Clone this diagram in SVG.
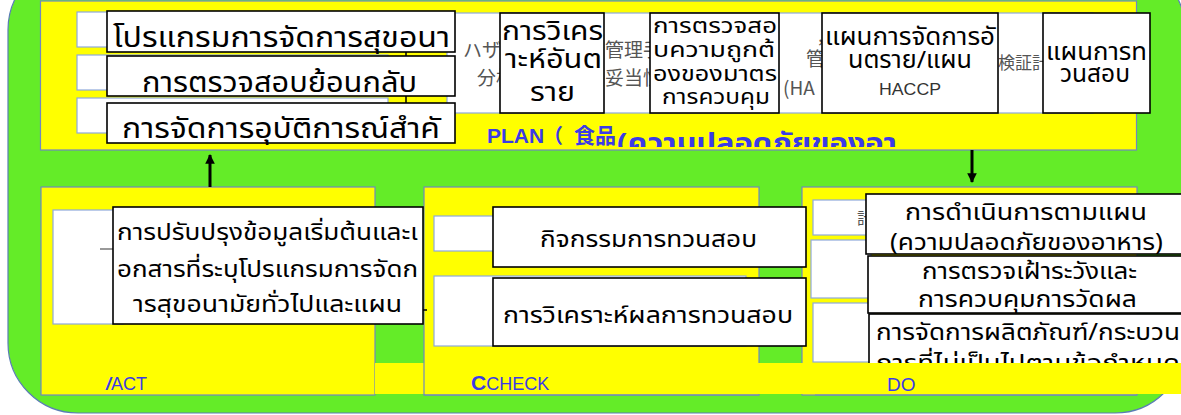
<svg xmlns="http://www.w3.org/2000/svg" width="1181" height="415" viewBox="0 0 1181 415">
<style>
.ybox{fill:#FFFF00;stroke:#7088C0;stroke-width:1.2}
.cell{fill:#FFFFFF;stroke:#8EA9DB;stroke-width:1.2}
.bb{fill:#FFFFFF;stroke:#000000;stroke-width:1.6}
.th{font-family:"Noto Sans Thai","Noto Sans Thai Looped","DejaVu Sans","Noto Sans",sans-serif;fill:#000}
.jp{font-family:"Noto Sans CJK JP",sans-serif;fill:#555;font-size:19px}
.lbl{font-family:"Liberation Sans",Arial,sans-serif;fill:#3B3BE6}
.conn{stroke:#000;stroke-width:3;fill:none}
</style>
<defs>
<marker id="ah" viewBox="0 0 10 10" refX="9" refY="5" markerWidth="3.2" markerHeight="3.2" orient="auto"><path d="M0,0 L10,5 L0,10 z" fill="#000"/></marker>
<clipPath id="planclip"><rect x="40" y="0" width="1100" height="147"/></clipPath>
<clipPath id="doclip"><rect x="860" y="310" width="330" height="53"/></clipPath>
</defs>
<rect width="1181" height="415" fill="#FFFFFF"/>
<path id="bg" d="M78,-40 H1115 A70,70 0 0 1 1185,30 V343 A70,70 0 0 1 1115,413 H78 A70,70 0 0 1 8,343 V30 A70,70 0 0 1 78,-40 Z" fill="#64EC28" stroke="#5A7DB5" stroke-width="1.2"/>

<g id="plan">
<rect class="ybox" x="40.5" y="1" width="1096" height="149"/>
<rect class="cell" x="77" y="12" width="311" height="35"/>
<rect class="cell" x="77" y="55" width="311" height="35"/>
<rect class="cell" x="77" y="98" width="311" height="35"/>
<rect class="cell" x="447" y="13" width="646" height="100"/>
<text class="jp"><tspan x="463" y="57">ハザ</tspan><tspan x="477" y="85">分析</tspan></text>
<text class="jp"><tspan x="605" y="57">管理手</tspan><tspan x="605" y="85">妥当性</tspan></text>
<text class="jp"><tspan x="818" y="42">,</tspan><tspan x="806" y="66">管</tspan><tspan x="783" y="95">(HA</tspan></text>
<text class="jp" x="998" y="69" style="font-size:17px">検証計</text>
<text class="lbl" x="487" y="143" style="font-size:21px;font-weight:bold">PLAN</text>
<text class="lbl" clip-path="url(#planclip)" style="font-weight:bold"><tspan x="543" y="143" style="font-family:'Noto Sans CJK JP',sans-serif;font-size:20px">（</tspan><tspan x="574" y="143" style="font-family:'Noto Sans CJK JP',sans-serif;font-size:21px">食品</tspan><tspan class="th" x="617" y="152" style="font-size:26px;fill:#3B3BE6" textLength="280" lengthAdjust="spacingAndGlyphs">(ความปลอดภัยของอา</tspan></text>
</g>

<g id="plan-n1"><rect class="bb" x="107" y="11" width="348" height="41"/><text class="th" x="113" y="47" style="font-size:28px" textLength="337" lengthAdjust="spacingAndGlyphs">โปรแกรมการจัดการสุขอนา</text></g>
<g id="plan-n2"><rect class="bb" x="107" y="56" width="348" height="40"/><text class="th" x="142" y="92" style="font-size:28px" textLength="275" lengthAdjust="spacingAndGlyphs">การตรวจสอบย้อนกลับ</text></g>
<g id="plan-n3"><rect class="bb" x="107" y="103" width="348" height="40"/><text class="th" x="122" y="138" style="font-size:28px" textLength="318" lengthAdjust="spacingAndGlyphs">การจัดการอุบัติการณ์สำคั</text></g>
<g id="plan-n4"><rect class="bb" x="500" y="13" width="104" height="100"/>
<text class="th" style="font-size:26px"><tspan x="502" y="40" textLength="101" lengthAdjust="spacingAndGlyphs">การวิเคร</tspan><tspan x="505" y="68" textLength="97" lengthAdjust="spacingAndGlyphs">าะห์อันต</tspan><tspan x="530" y="101" textLength="45" lengthAdjust="spacingAndGlyphs">ราย</tspan></text></g>
<g id="plan-n5"><rect class="bb" x="650" y="13" width="129" height="100"/>
<text class="th" style="font-size:22px"><tspan x="653" y="33" textLength="124" lengthAdjust="spacingAndGlyphs">การตรวจสอ</tspan><tspan x="653" y="57" textLength="122" lengthAdjust="spacingAndGlyphs">บความถูกต้</tspan><tspan x="653" y="81" textLength="124" lengthAdjust="spacingAndGlyphs">องของมาตร</tspan><tspan x="662" y="104" textLength="108" lengthAdjust="spacingAndGlyphs">การควบคุม</tspan></text></g>
<g id="plan-n6"><rect class="bb" x="822" y="13" width="176" height="100"/>
<text class="th" style="font-size:24px"><tspan x="825" y="45" textLength="170" lengthAdjust="spacingAndGlyphs">แผนการจัดการอั</tspan><tspan x="848" y="68" textLength="124" lengthAdjust="spacingAndGlyphs">นตราย/แผน</tspan><tspan x="879" y="95" textLength="62" lengthAdjust="spacingAndGlyphs" style="font-family:'Liberation Sans',Arial,sans-serif;font-size:17px;fill:#333">HACCP</tspan></text></g>
<g id="plan-n7"><rect class="bb" x="1043" y="13" width="107" height="100"/>
<text class="th" style="font-size:24px"><tspan x="1046" y="60" textLength="101" lengthAdjust="spacingAndGlyphs">แผนการท</tspan><tspan x="1060" y="82" textLength="70" lengthAdjust="spacingAndGlyphs">วนสอบ</tspan></text></g>

<g id="act">
<rect class="ybox" x="41" y="187" width="334" height="208"/>
<rect class="cell" x="53" y="210" width="70" height="114"/>
<line x1="100" y1="249" x2="113" y2="249" stroke="#777" stroke-width="1.5"/>
</g>
<g id="check">
<rect class="ybox" x="424" y="187" width="335" height="208"/>
<rect class="cell" x="434" y="216" width="70" height="35"/>
<rect class="cell" x="434" y="276" width="312" height="70"/>
</g>
<g id="do">
<rect class="ybox" x="802" y="187" width="335" height="208"/>
<rect class="cell" x="813" y="200" width="60" height="35"/>
<text class="jp" x="857" y="224" style="font-size:16px">計</text>
<rect class="cell" x="811" y="240" width="60" height="58"/>
<rect class="cell" x="813" y="303" width="60" height="59"/>
</g>

<g id="act-n1"><rect class="bb" x="113" y="207" width="310" height="117"/>
<text class="th" style="font-size:23px"><tspan x="117" y="240" textLength="301" lengthAdjust="spacingAndGlyphs">การปรับปรุงข้อมูลเริ่มต้นและเ</tspan><tspan x="117" y="277" textLength="301" lengthAdjust="spacingAndGlyphs">อกสารที่ระบุโปรแกรมการจัดก</tspan><tspan x="133" y="312" textLength="269" lengthAdjust="spacingAndGlyphs">ารสุขอนามัยทั่วไปและแผน</tspan></text></g>
<g id="check-n1"><rect class="bb" x="493" y="207" width="313" height="60"/>
<text class="th" x="540" y="247" style="font-size:23px" textLength="217" lengthAdjust="spacingAndGlyphs">กิจกรรมการทวนสอบ</text></g>
<g id="check-n2"><rect class="bb" x="493" y="278" width="313" height="68"/>
<text class="th" x="503" y="323" style="font-size:23px" textLength="290" lengthAdjust="spacingAndGlyphs">การวิเคราะห์ผลการทวนสอบ</text></g>
<g id="do-n1"><rect class="bb" x="866" y="194" width="330" height="60"/>
<text class="th" style="font-size:23px"><tspan x="905" y="220" textLength="242" lengthAdjust="spacingAndGlyphs">การดำเนินการตามแผน</tspan><tspan x="890" y="250" textLength="273" lengthAdjust="spacingAndGlyphs">(ความปลอดภัยของอาหาร)</tspan></text></g>
<g id="do-n2"><rect class="bb" x="868" y="256" width="330" height="57"/>
<text class="th" style="font-size:23px"><tspan x="922" y="279" textLength="215" lengthAdjust="spacingAndGlyphs">การตรวจเฝ้าระวังและ</tspan><tspan x="918" y="307" textLength="219" lengthAdjust="spacingAndGlyphs">การควบคุมการวัดผล</tspan></text></g>
<g id="do-n3"><rect class="bb" x="869" y="314" width="330" height="60"/>
<text class="th" style="font-size:23px" clip-path="url(#doclip)"><tspan x="876" y="340" textLength="304" lengthAdjust="spacingAndGlyphs">การจัดการผลิตภัณฑ์/กระบวน</tspan><tspan x="876" y="371" textLength="304" lengthAdjust="spacingAndGlyphs">การที่ไม่เป็นไปตามข้อกำหนด</tspan></text></g>

<g id="band">
<rect x="375" y="363" width="806" height="31" fill="#FFFF00"/>
<line x1="424" y1="363" x2="424" y2="395" stroke="#7088C0" stroke-width="1.2"/>
<line x1="424" y1="395" x2="759" y2="395" stroke="#7088C0" stroke-width="1.2"/>
<line x1="815" y1="395" x2="1137" y2="395" stroke="#7088C0" stroke-width="1.2"/>
<text class="lbl" x="106" y="390" style="font-size:18px"><tspan style="font-weight:bold;font-style:italic">/</tspan>ACT</text>
<text class="lbl" x="471" y="390" style="font-size:18px"><tspan style="font-weight:bold;font-size:21px">C</tspan>CHECK</text>
<text class="lbl" x="887" y="391" style="font-size:19px">DO</text>
</g>

<g id="connectors">
<line class="conn" x1="210" y1="187" x2="210" y2="155" marker-end="url(#ah)"/>
<line class="conn" x1="972" y1="150" x2="972" y2="182" marker-end="url(#ah)"/>
<line x1="406" y1="52" x2="406" y2="56" stroke="#000" stroke-width="1.5"/>
<line x1="406" y1="96" x2="406" y2="103" stroke="#000" stroke-width="1.5"/>
<line x1="423" y1="310" x2="427" y2="310" stroke="#000" stroke-width="1.5"/>
</g>
</svg>
